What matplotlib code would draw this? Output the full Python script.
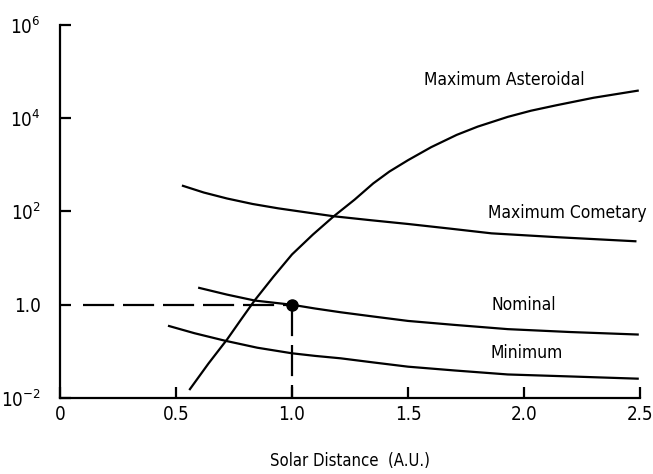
import matplotlib
matplotlib.use("Agg")
import matplotlib.pyplot as plt
import numpy as np

# values (solar distance in A.U., flux relative to 1 A.U. nominal)
ast_x = [0.56, 0.64, 0.72, 0.78, 0.84, 0.92, 1.0, 1.09, 1.18, 1.27, 1.35, 1.42, 1.5, 1.6, 1.71,
         1.8, 1.93, 2.03, 2.14, 2.3, 2.49]
ast_y = [0.0155, 0.055, 0.18, 0.48, 1.26, 4.0, 12, 32, 79, 180, 400, 720, 1260, 2400, 4400,
         6600, 10700, 14500, 19000, 27500, 39000]

com_x = [0.53, 0.62, 0.72, 0.83, 0.94, 1.06, 1.18, 1.34, 1.5, 1.68, 1.86, 2.15, 2.48]
com_y = [355, 255, 190, 145, 117, 96, 79, 65, 54, 43, 34, 28, 23]

nom_x = [0.60, 0.72, 0.84, 1.0, 1.1, 1.21, 1.35, 1.5, 1.7, 1.93, 2.2, 2.49]
nom_y = [2.3, 1.65, 1.23, 1.0, 0.83, 0.69, 0.56, 0.45, 0.37, 0.30, 0.26, 0.23]

min_x = [0.47, 0.58, 0.71, 0.85, 1.0, 1.1, 1.21, 1.35, 1.5, 1.7, 1.93, 2.2, 2.49]
min_y = [0.35, 0.245, 0.17, 0.12, 0.091, 0.08, 0.071, 0.058, 0.047, 0.039, 0.032, 0.029, 0.026]

xticks = [0, 0.5, 1.0, 1.5, 2.0, 2.5]
xtick_labels = ["0", "0.5", "1.0", "1.5", "2.0", "2.5"]
yticks = [1e-2, 1.0, 1e2, 1e4, 1e6]
ytick_labels = [r"$10^{-2}$", "1.0", r"$10^{2}$", r"$10^{4}$", r"$10^{6}$"]

plt.rcParams['font.family'] = ['DejaVu Sans']
plt.rcParams['font.stretch'] = 'condensed'
plt.rcParams['mathtext.fontset'] = 'custom'
plt.rcParams['mathtext.rm'] = 'DejaVu Sans:stretch=condensed'

fig = plt.figure(figsize=(6.53, 4.74), dpi=100)
ax = fig.add_axes([0.0919, 0.1603, 0.8882, 0.787])

lw = 1.6
ax.plot(ast_x, ast_y, color="black", lw=lw)
ax.plot(com_x, com_y, color="black", lw=lw)
ax.plot(nom_x, nom_y, color="black", lw=lw)
ax.plot(min_x, min_y, color="black", lw=lw)

# reference point at 1 A.U.
ax.plot([0.1, 1.0], [1.0, 1.0], color="black", lw=lw, dashes=(14, 4))
ax.plot([1.0, 1.0], [1.0, 1e-2], color="black", lw=lw, dashes=(14, 4))
ax.plot([1.0], [1.0], "o", color="black", ms=8)

ax.set_yscale("log")
ax.set_xlim(0, 2.5)
ax.set_ylim(1e-2, 1e6)
ax.set_xticks(xticks)
ax.set_xticklabels(xtick_labels)
ax.set_yticks(yticks)
ax.set_yticklabels(ytick_labels)
ax.minorticks_off()
ax.tick_params(direction="in", length=8, width=1.6, labelsize=13.5)
ax.tick_params(axis="y", pad=14)
ax.tick_params(axis="x", pad=5)

for s in ["top", "right"]:
    ax.spines[s].set_visible(False)
for s in ["left", "bottom"]:
    ax.spines[s].set_linewidth(1.6)

ax.set_xlabel("Solar Distance  (A.U.)", fontsize=12, labelpad=20)

ax.text(1.57, 6.6e4, "Maximum Asteroidal", fontsize=12.5, ha="left", va="center")
ax.text(1.845, 93, "Maximum Cometary", fontsize=12.5, ha="left", va="center")
ax.text(1.86, 1.0, "Nominal", fontsize=12.5, ha="left", va="center")
ax.text(1.855, 0.091, "Minimum", fontsize=12.5, ha="left", va="center")

fig.savefig("out.png", dpi=100)
